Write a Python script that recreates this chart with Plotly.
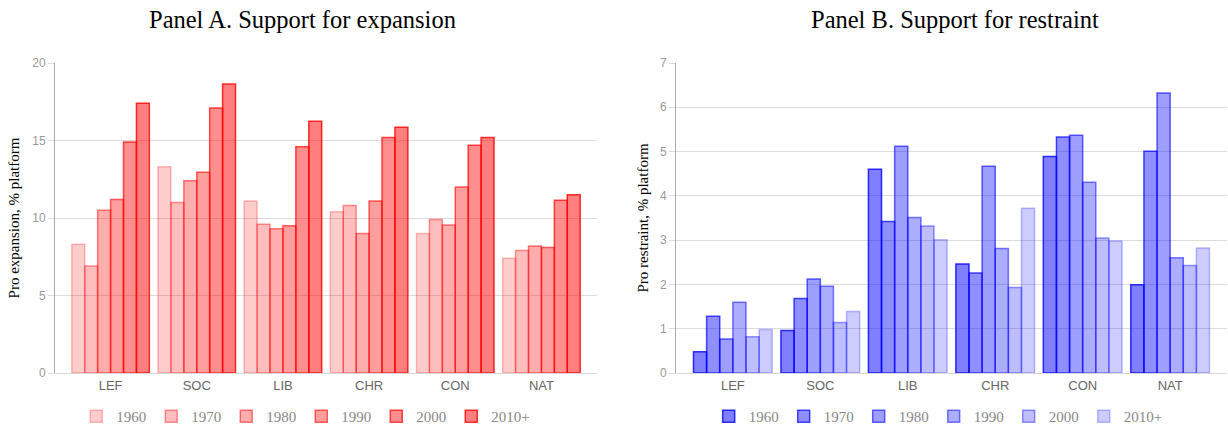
import plotly.graph_objects as go

categories = ["LEF", "SOC", "LIB", "CHR", "CON", "NAT"]
decades = ["1960", "1970", "1980", "1990", "2000", "2010+"]

# Panel A: support for expansion (% platform), one list per decade across categories
exp_1960 = [8.3, 13.3, 11.1, 10.4, 9.0, 7.4]
exp_1970 = [6.9, 11.0, 9.6, 10.8, 9.9, 7.9]
exp_1980 = [10.5, 12.4, 9.3, 9.0, 9.55, 8.2]
exp_1990 = [11.2, 12.95, 9.5, 11.1, 12.0, 8.1]
exp_2000 = [14.9, 17.1, 14.6, 15.2, 14.7, 11.15]
exp_2010 = [17.4, 18.65, 16.25, 15.85, 15.2, 11.5]

# Panel B: support for restraint (% platform)
res_1960 = [0.48, 0.96, 4.6, 2.46, 4.89, 1.99]
res_1970 = [1.28, 1.68, 3.42, 2.26, 5.33, 5.01]
res_1980 = [0.77, 2.12, 5.12, 4.67, 5.37, 6.32]
res_1990 = [1.6, 1.96, 3.51, 2.81, 4.31, 2.6]
res_2000 = [0.82, 1.14, 3.32, 1.93, 3.05, 2.43]
res_2010 = [0.98, 1.39, 3.01, 3.72, 2.98, 2.82]

exp_series = [exp_1960, exp_1970, exp_1980, exp_1990, exp_2000, exp_2010]
res_series = [res_1960, res_1970, res_1980, res_1990, res_2000, res_2010]

red_fill = [0.2, 0.26, 0.32, 0.38, 0.44, 0.5]
red_line = [0.25, 0.4, 0.5, 0.6, 0.7, 0.8]
blue_fill = [0.5, 0.44, 0.38, 0.32, 0.26, 0.2]
blue_line = [0.8, 0.7, 0.6, 0.5, 0.4, 0.25]

W, H = 1228, 428
SERIF = "Liberation Serif, Times New Roman, serif"
SANS = "Liberation Sans, Arial, sans-serif"

fig = go.Figure()
for i, d in enumerate(decades):
    fig.add_trace(go.Bar(
        x=categories, y=exp_series[i], name=d, xaxis="x", yaxis="y",
        marker=dict(color=f"rgba(255,0,0,{red_fill[i]})",
                    line=dict(color=f"rgba(255,0,0,{red_line[i]})", width=1.5)),
        legend="legend", offsetgroup=f"a{i}",
    ))
for i, d in enumerate(decades):
    fig.add_trace(go.Bar(
        x=categories, y=res_series[i], name=d, xaxis="x2", yaxis="y2",
        marker=dict(color=f"rgba(0,0,255,{blue_fill[i]})",
                    line=dict(color=f"rgba(0,0,255,{blue_line[i]})", width=1.5)),
        legend="legend2", offsetgroup=f"b{i}",
    ))

mt, mb = 63, 55
PH = H - mt - mb
xa = [55 / W, 597 / W]
xb = [676 / W, 1227 / W]

axis_common = dict(
    showgrid=False, showline=True, linecolor="#d9d9d9", linewidth=1,
    ticks="", tickfont=dict(family=SANS, size=13, color="#666"),
    fixedrange=True,
)
yaxis_common = dict(
    showgrid=True, gridcolor="#dcdcdc", gridwidth=1, zeroline=False,
    showline=True, linecolor="#aaaaaa", linewidth=1,
    ticks="outside", ticklen=6, tickcolor="#dcdcdc",
    tickfont=dict(family=SANS, size=12, color="#999"),
)

leg_y = -27 / PH

fig.update_layout(
    width=W, height=H,
    margin=dict(l=0, r=0, t=mt, b=mb, autoexpand=False),
    paper_bgcolor="white", plot_bgcolor="white",
    barmode="group", bargap=0.1, bargroupgap=0,
    xaxis=dict(domain=xa, anchor="y", range=[-0.645, 5.645], **axis_common),
    yaxis=dict(domain=[0, 1], anchor="x", range=[0, 20], dtick=5,
               title=dict(text="Pro expansion, % platform", standoff=8,
                          font=dict(family=SERIF, size=15, color="black")),
               **yaxis_common),
    xaxis2=dict(domain=xb, anchor="y2", range=[-0.65, 5.65], **axis_common),
    yaxis2=dict(domain=[0, 1], anchor="x2", range=[0, 7], dtick=1,
                title=dict(text="Pro restraint, % platform", standoff=7,
                           font=dict(family=SERIF, size=15, color="black")),
                **yaxis_common),
    legend=dict(orientation="h", x=0.249, xanchor="center", y=leg_y, yanchor="top",
                font=dict(family=SERIF, size=15, color="#888"), itemclick=False,
                traceorder="normal"),
    legend2=dict(orientation="h", x=0.764, xanchor="center", y=leg_y, yanchor="top",
                 font=dict(family=SERIF, size=15, color="#888"), itemclick=False,
                 traceorder="normal"),
    annotations=[
        dict(text="Panel A. Support for expansion", xref="paper", yref="paper",
             x=302 / W, y=1 + (mt - 19) / PH, xanchor="center", yanchor="middle",
             showarrow=False, font=dict(family=SERIF, size=24.5, color="black")),
        dict(text="Panel B. Support for restraint", xref="paper", yref="paper",
             x=955 / W, y=1 + (mt - 19) / PH, xanchor="center", yanchor="middle",
             showarrow=False, font=dict(family=SERIF, size=24.5, color="black")),
    ],
)

fig.write_html("out.html")
